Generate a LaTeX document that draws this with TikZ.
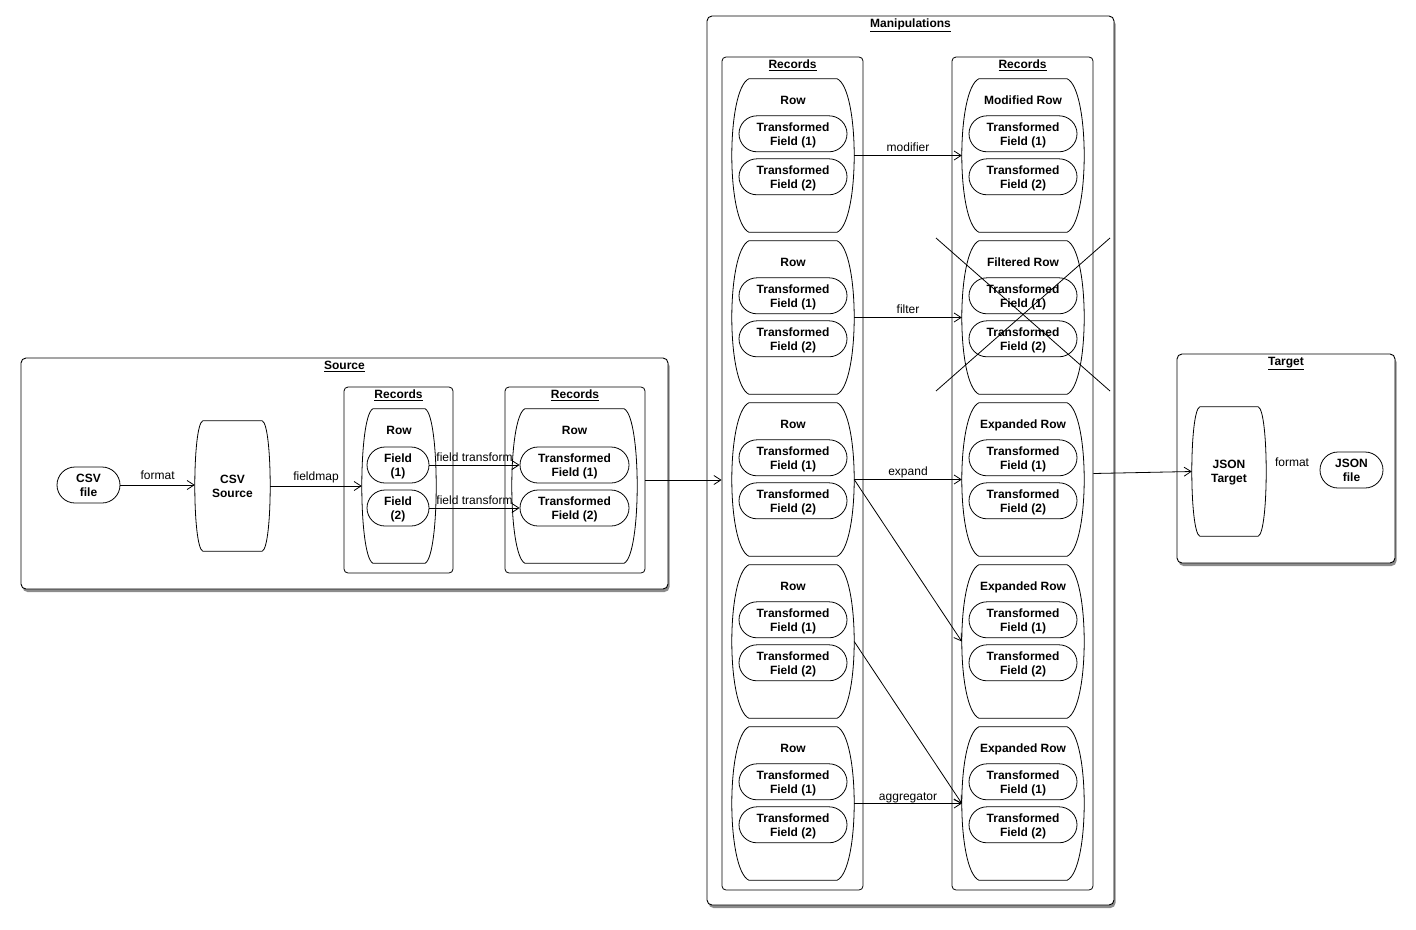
\documentclass[tikz,border=0pt]{standalone}
\usepackage{fontspec}
\setmainfont{Liberation Sans}
\usetikzlibrary{arrows.meta,calc,shadows}
\newcommand\fsz{\fontsize{12}{14}\selectfont}
\begin{document}
\begin{tikzpicture}[x=1pt,y=-1pt,
  container/.style={draw, fill=white, rounded corners=5pt, line width=0.9pt, inner sep=0,
    drop shadow={shadow xshift=1.5pt, shadow yshift=-3pt, opacity=0.6, fill=black!75}},
  recbox/.style={draw, fill=white, rounded corners=4pt, line width=0.8pt, inner sep=0},
  pill/.style={draw, rounded corners=18pt, minimum height=36pt, minimum width=108pt, inner sep=0,
    align=center, font=\fsz\bfseries, line width=0.8pt, text depth=0pt},
  barrelarea/.style={inner sep=0, align=center, font=\fsz\bfseries, text depth=0pt},
  ttl/.style={font=\fsz\bfseries, inner sep=0, text depth=0pt},
  lbl/.style={font=\fsz, inner sep=1pt, text depth=0pt},
  conn/.style={line width=0.8pt, -{Straight Barb[length=7pt,width=9pt]}},
  plain/.style={line width=0.8pt}
]
\useasboundingbox (0,0) rectangle (1416,929);

% ---------- containers ----------
\node[container, minimum width=647pt, minimum height=231pt] (source) at (344.5,473.5) {};
\node[ttl] (sourcet) at ($(source.north)+(0,8)$) {\underline{Source}};
\node[container, minimum width=407pt, minimum height=889pt] (manip) at (910.5,460.5) {};
\node[ttl] (manipt) at ($(manip.north)+(0,7.5)$) {\underline{Manipulations}};
\node[container, minimum width=218pt, minimum height=209pt] (target) at (1286,458.5) {};
\node[ttl] (targett) at ($(target.north)+(0,8)$) {\underline{Target}};

% ---------- source ----------
\node[pill, minimum width=63pt] (csvfile) at (88.5,485) {CSV\\file};
\node[barrelarea, minimum width=75pt, minimum height=130pt] (csvsrc) at (232.5,486) {CSV\\Source};

\node[recbox, minimum width=109pt, minimum height=186pt] (srec) at (398.5,480) {};
\node[ttl] (srect) at ($(srec.north)+(0,8)$) {\underline{Records}};
\node[barrelarea, minimum width=74pt, minimum height=154pt] (srow) at (399,486) {};
\node[ttl] (srowt) at ($(srow.north)+(0,21.5)$) {Row};
\node[pill, minimum width=62pt] (f1) at (398,465) {Field\\(1)};
\node[pill, minimum width=62pt] (f2) at (398,508) {Field\\(2)};

\node[recbox, minimum width=140pt, minimum height=186pt] (trec) at (575,480) {};
\node[ttl] (trect) at ($(trec.north)+(0,8)$) {\underline{Records}};
\node[barrelarea, minimum width=125pt, minimum height=154pt] (trow) at (574.5,486) {};
\node[ttl] (trowt) at ($(trow.north)+(0,21.5)$) {Row};
\node[pill, minimum width=109pt] (tf1) at (574.5,465) {Transformed\\Field (1)};
\node[pill, minimum width=109pt] (tf2) at (574.5,508) {Transformed\\Field (2)};

% ---------- manipulations ----------
\node[recbox, minimum width=141pt, minimum height=833pt] (lrec) at (792.5,473.5) {};
\node[ttl] (lrect) at ($(lrec.north)+(0,8)$) {\underline{Records}};
\node[recbox, minimum width=141pt, minimum height=833pt] (rrec) at (1022.5,473.5) {};
\node[ttl] (rrect) at ($(rrec.north)+(0,8)$) {\underline{Records}};

\foreach \i/\t in {0/Modified Row,1/Filtered Row,2/Expanded Row,3/Expanded Row,4/Expanded Row}{
  \pgfmathsetmacro\yc{155.5+162*\i}
  \node[barrelarea, minimum width=122pt, minimum height=153pt] (L\i) at (793,\yc) {};
  \node[ttl] (L\i-t) at ($(L\i.north)+(0,21.5)$) {Row};
  \node[pill] (L\i-a) at ($(L\i.north)+(0,55)$) {Transformed\\Field (1)};
  \node[pill] (L\i-b) at ($(L\i.north)+(0,98)$) {Transformed\\Field (2)};
  \node[barrelarea, minimum width=122pt, minimum height=153pt] (R\i) at (1023,\yc) {};
  \node[ttl] (R\i-t) at ($(R\i.north)+(0,21.5)$) {\t};
  \node[pill] (R\i-a) at ($(R\i.north)+(0,55)$) {Transformed\\Field (1)};
  \node[pill] (R\i-b) at ($(R\i.north)+(0,98)$) {Transformed\\Field (2)};
}

% ---------- target ----------
\node[barrelarea, minimum width=74pt, minimum height=129pt] (jt) at (1229,471.5) {JSON\\Target};
\node[lbl] (jformat) at (1292,462) {format};
\node[pill, minimum width=63pt] (jfile) at (1351.5,470) {JSON\\file};

% ---------- barrel outlines ----------
\foreach \n/\d/\b in {csvsrc/8/4,srow/11/8,trow/13/9,jt/8/4,L0/17/11,L1/17/11,L2/17/11,L3/17/11,L4/17/11,R0/17/11,R1/17/11,R2/17/11,R3/17/11,R4/17/11}{
  \draw[plain] ($(\n.north west)+(\d,0)$) -- ($(\n.north east)+(-\d,0)$)
    .. controls ($(\n.north east)+(\d/3,\b)$) and ($(\n.south east)+(\d/3,-\b)$) .. ($(\n.south east)+(-\d,0)$)
    -- ($(\n.south west)+(\d,0)$)
    .. controls ($(\n.south west)+(-\d/3,-\b)$) and ($(\n.north west)+(-\d/3,\b)$) .. cycle;
}

% ---------- connectors ----------
\draw[conn] (csvfile.east) -- (csvfile.east -| csvsrc.west) node[lbl, midway, above=4pt] {format};
\draw[conn] (csvsrc.east) -- (srow.west) node[lbl, midway, above=4.5pt] {fieldmap};
\draw[conn] (f1.east) -- (tf1.west) node[lbl, midway, above=2pt] {field transform};
\draw[conn] (f2.east) -- (tf2.west) node[lbl, midway, above=2pt] {field transform};
\draw[conn] (trec.east) -- (trec.east -| lrec.west);

\draw[conn] (L0.east) -- (R0.west) node[lbl, midway, above=3pt] {modifier};
\draw[conn] (L1.east) -- (R1.west) node[lbl, midway, above=3pt] {filter};
\draw[conn] (L2.east) -- (R2.west) node[lbl, midway, above=3pt] {expand};
\draw[conn] (L2.east) -- (R3.west);
\draw[conn] (L3.east) -- (R4.west);
\draw[conn] (L4.east) -- (R4.west) node[lbl, midway, above=2pt] {aggregator};

\draw[conn] (rrec.east) -- (jt.west);

% ---------- cross over filtered row ----------
\coordinate (xa) at ($(R1.center)+(-87,-79.5)$);
\coordinate (xb) at ($(R1.center)+(87,73.5)$);
\coordinate (xc) at ($(R1.center)+(87,-79.5)$);
\coordinate (xd) at ($(R1.center)+(-87,73.5)$);
\draw[plain] (xa) -- (xb);
\draw[plain] (xc) -- (xd);
\end{tikzpicture}
\end{document}
